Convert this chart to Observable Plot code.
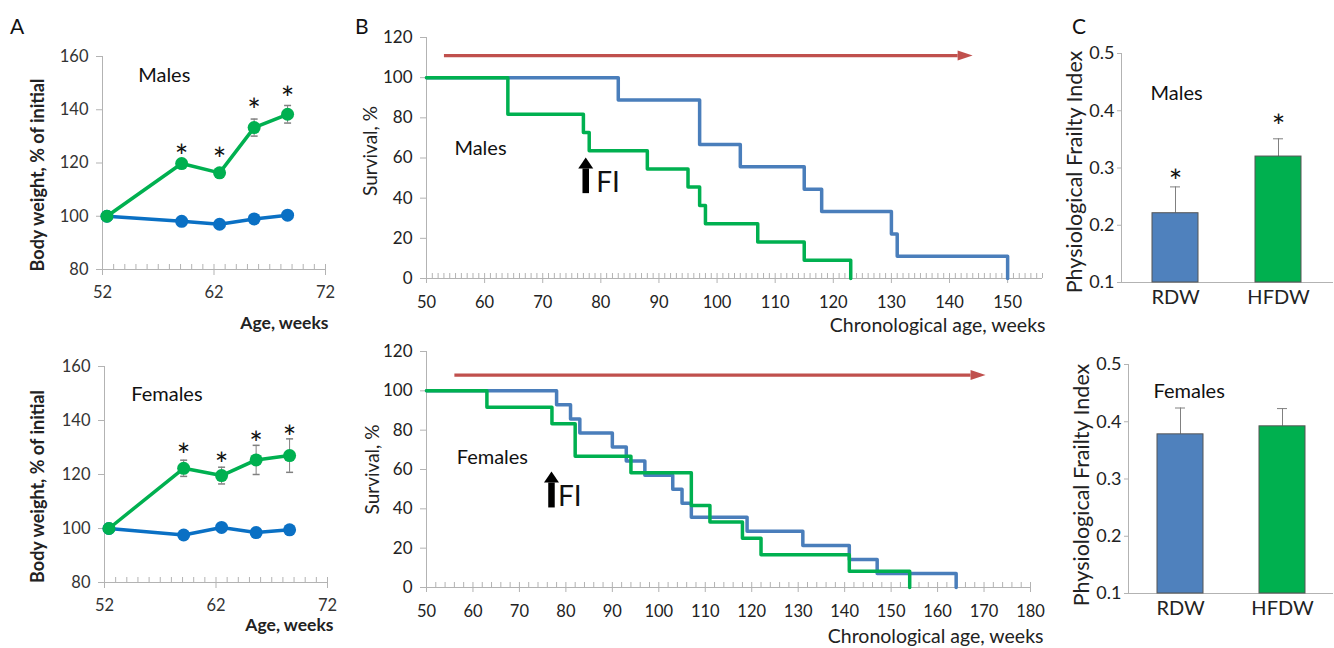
<!DOCTYPE html>
<html><head><meta charset="utf-8">
<script src="https://cdn.jsdelivr.net/npm/d3@7"></script>
<script src="https://cdn.jsdelivr.net/npm/@observablehq/plot@0.6"></script>
<style>
body{margin:0;background:#fff;}
#fig{position:relative;width:1334px;height:648px;overflow:hidden;font-family:Lato,"Open Sans",sans-serif;}
.panel{position:absolute;}
.letter{position:absolute;font-size:21px;color:#111;font-family:Lato,sans-serif;line-height:1;}
</style></head><body><div id="fig"></div>
<script>
// ---------- Panel A: body weight ----------
const weightWeeks = [52.4, 59.1, 62.5, 65.6, 68.6];
const maleHFDW = [100, 119.8, 116.3, 133.3, 138.3];
const maleHFDWErr = [0.6, 1.2, 1.2, 3.2, 3.3];
const maleRDW = [100, 98.1, 97.0, 99.0, 100.4];
const maleRDWErr = [0.5, 1.2, 1.2, 0.8, 0.6];
const maleStar = [null, 125.4, 124.1, 142.8, 147.0];
const femaleHFDW = [100, 122.3, 119.6, 125.4, 127.0];
const femaleHFDWErr = [0.6, 3.0, 3.1, 5.4, 6.2];
const femaleRDW = [100, 97.6, 100.4, 98.5, 99.5];
const femaleRDWErr = [0.5, 1.0, 0.8, 1.0, 0.6];
const femaleStar = [null, 129.9, 126.4, 134.4, 136.5];
const weightTicks = [80, 100, 120, 140, 160];
const ageTicks = [52, 62, 72];

// ---------- Panel B: survival (Kaplan-Meier steps) ----------
const maleRDWTime = [50, 83, 97, 104, 115, 118, 130, 131, 150];
const maleRDWSurv = [100, 88.9, 66.7, 55.6, 44.4, 33.3, 22.2, 11.1, 0];
const maleHFDWTime = [50, 64, 77, 78, 88, 95, 97, 98, 107, 115, 123];
const maleHFDWSurv = [100, 81.8, 72.7, 63.6, 54.5, 45.5, 36.4, 27.3, 18.2, 9.1, 0];
const femaleRDWTime = [50, 78, 81, 83, 90, 93, 97, 103, 105, 107, 119, 131, 141, 147, 164];
const femaleRDWSurv = [100, 92.9, 85.7, 78.6, 71.4, 64.3, 57.1, 50, 42.9, 35.7, 28.6, 21.4, 14.3, 7.1, 0];
const femaleHFDWTime = [50, 63, 77, 82, 94, 107, 111, 118, 122, 141, 154];
const femaleHFDWSurv = [100, 91.7, 83.3, 66.7, 58.3, 41.7, 33.3, 25, 16.7, 8.3, 0];
const survivalTicks = [0, 20, 40, 60, 80, 100, 120];
// treatment arrow (start week, head-base week, level) and FI arrow (week, from, head base) per sex
const treatStart = [53, 56];
const treatHeadBase = [141.4, 167.1];
const treatLevel = [111, 108];
const fiWeek = [77.4, 76.9];
const fiFrom = [42.5, 40.7];
const fiHeadBase = [54.8, 53.4];
const fiTextWeek = [79.2, 78.3];
const fiTextLevel = [47.3, 45.8];
const sexLabelWeek = [54.8, 56.5];
const sexLabelLevel = [64.9, 66.1];

// ---------- Panel C: frailty index ----------
const groups = ["RDW", "HFDW"];
const maleFI = [0.221, 0.320];
const maleFIErr = [0.046, 0.031];
const maleFIStar = [0.290, 0.386];
const femaleFI = [0.378, 0.392];
const femaleFIErr = [0.046, 0.031];
const femaleFIStar = [null, null];
const fiTicks = [0.1, 0.2, 0.3, 0.4, 0.5];

// ---------- styling ----------
const axisGray = "#b3b3b3";
const errGray = "#808080";
const greenA = "#00b050", blueA = "#0a70c4";
const greenB = "#00b050", blueB = "#4a7ebb", redB = "#c0504d";
const barBlue = "#4f81bd", barGreen = "#00b04f";
const FONT = "Lato, 'Open Sans', sans-serif";

const capSym = {draw(ctx) { ctx.moveTo(-3.5, 0); ctx.lineTo(3.5, 0); }};
const headRight = {draw(ctx) { ctx.moveTo(15, 0); ctx.lineTo(0, -5); ctx.lineTo(0, 5); ctx.closePath(); }};
const headUp = {draw(ctx) { ctx.moveTo(0, -11); ctx.lineTo(-7.5, 0); ctx.lineTo(7.5, 0); ctx.closePath(); }};

const fig = document.getElementById("fig");
function place(svg, left, top, w) {
  const d = document.createElement("div");
  d.className = "panel";
  d.style.left = left + "px"; d.style.top = top + "px"; d.style.width = w + "px";
  d.appendChild(svg); fig.appendChild(d);
}
function letter(t, left, top) {
  const d = document.createElement("div");
  d.className = "letter"; d.textContent = t;
  d.style.left = left + "px"; d.style.top = top + "px";
  fig.appendChild(d);
}
const baseStyle = {fontFamily: FONT, fontSize: "16px", color: "#222", background: "transparent", overflow: "visible"};

function weightPanel(o) {
  const data = weightWeeks.map((w, i) => ({week: w, hf: o.hf[i], hfErr: o.hfErr[i], rd: o.rd[i], rdErr: o.rdErr[i], star: o.star[i]}));
  const fh = o.height - o.mt - o.mb;
  const minor = d3.range(52, 72.001, 1);
  return Plot.plot({
    width: 345, height: o.height, marginLeft: o.ml, marginRight: o.mr, marginTop: o.mt, marginBottom: o.mb,
    style: baseStyle,
    x: {domain: [52, 72]}, y: {domain: [80, 160]},
    marks: [
      Plot.ruleX([52], {stroke: axisGray}),
      Plot.ruleY([80], {stroke: axisGray}),
      Plot.tickX(minor, {x: d => d, stroke: axisGray, insetTop: fh - 5}),
      Plot.axisX({ticks: ageTicks, tickSize: 6, tickPadding: 11, stroke: axisGray, fill: "#333", fontSize: 16.5, label: null}),
      Plot.axisY({ticks: weightTicks, tickSize: 6, tickPadding: 8, stroke: axisGray, fill: "#333", fontSize: 16.5, label: null}),
      Plot.ruleX(data, {x: "week", y1: d => d.rd - d.rdErr, y2: d => d.rd + d.rdErr, stroke: errGray}),
      Plot.ruleX(data, {x: "week", y1: d => d.hf - d.hfErr, y2: d => d.hf + d.hfErr, stroke: errGray}),
      Plot.dot(data, {x: "week", y: d => d.hf + d.hfErr, symbol: capSym, stroke: errGray}),
      Plot.dot(data, {x: "week", y: d => d.hf - d.hfErr, symbol: capSym, stroke: errGray}),
      Plot.line(data, {x: "week", y: "rd", stroke: blueA, strokeWidth: 3.5}),
      Plot.dot(data, {x: "week", y: "rd", r: 6.5, fill: blueA}),
      Plot.line(data, {x: "week", y: "hf", stroke: greenA, strokeWidth: 3.5}),
      Plot.dot(data, {x: "week", y: "hf", r: 6.5, fill: greenA}),
      Plot.text(data.filter(d => d.star != null), {x: "week", y: "star", text: () => "*", fontSize: 32, dy: 9, fill: "#111"}),
      Plot.text([o.sex], {x: o.labelX, y: o.labelY, textAnchor: "start", fontSize: 20, fill: "#111"}),
      Plot.text(["Age, weeks"], {frameAnchor: "bottom-right", textAnchor: "end", dx: o.ageDx, dy: o.ageDy, fontSize: 17.5, fontWeight: "bold", fill: "#222"}),
      Plot.text(["Body weight, % of initial"], {frameAnchor: "left", textAnchor: "middle", rotate: -90, dx: o.ylDx, dy: o.ylDy, fontSize: 18, fontWeight: "bold", fill: "#222"})
    ]
  });
}

function survivalPanel(o) {
  const rd = o.rdT.map((t, i) => ({t, s: o.rdS[i]}));
  const hf = o.hfT.map((t, i) => ({t, s: o.hfS[i]}));
  const k = o.k;
  const arrow = [{x1: treatStart[k], x2: treatHeadBase[k], y: treatLevel[k]}];
  const fi = [{x: fiWeek[k], y1: fiFrom[k], y2: fiHeadBase[k]}];
  const fh = o.height - o.mt - o.mb;
  return Plot.plot({
    width: 705, height: o.height, marginLeft: o.ml, marginRight: o.mr, marginTop: o.mt, marginBottom: o.mb,
    style: baseStyle,
    x: {domain: [50, o.xmax]}, y: {domain: [0, 120]},
    marks: [
      Plot.ruleX([50], {stroke: axisGray}),
      Plot.ruleY([0], {stroke: axisGray}),
      Plot.tickX(d3.range(50, o.xmax + 0.001, o.minorStep), {x: d => d, stroke: axisGray, insetTop: fh - 5}),
      Plot.axisX({ticks: d3.range(50, o.tickMax + 1, 10), tickSize: 5, tickPadding: 13, stroke: axisGray, fill: "#222", fontSize: 16.5, label: null}),
      Plot.axisY({ticks: survivalTicks, tickSize: 6, tickPadding: 8, stroke: axisGray, fill: "#222", fontSize: 17, label: null}),
      Plot.line(rd, {x: "t", y: "s", curve: "step-after", stroke: blueB, strokeWidth: 3.5}),
      Plot.line(hf, {x: "t", y: "s", curve: "step-after", stroke: greenB, strokeWidth: 3.5}),
      Plot.link(arrow, {x1: "x1", x2: "x2", y1: "y", y2: "y", stroke: redB, strokeWidth: 3.2}),
      Plot.dot(arrow, {x: "x2", y: "y", symbol: headRight, fill: redB, r: 5}),
      Plot.link(fi, {x1: "x", x2: "x", y1: "y1", y2: "y2", stroke: "#000", strokeWidth: 6.5}),
      Plot.dot(fi, {x: "x", y: "y2", symbol: headUp, fill: "#000", r: 5}),
      Plot.text(["FI"], {x: fiTextWeek[k], y: fiTextLevel[k], textAnchor: "start", fontSize: 28, fill: "#111"}),
      Plot.text([o.sex], {x: sexLabelWeek[k], y: sexLabelLevel[k], textAnchor: "start", fontSize: 20, fill: "#111"}),
      Plot.text(["Chronological age, weeks"], {frameAnchor: "bottom-right", textAnchor: "end", dx: o.xlDx, dy: o.xlDy, fontSize: 19.5, fill: "#222"}),
      Plot.text(["Survival, %"], {frameAnchor: "left", textAnchor: "middle", rotate: -90, dx: o.ylDx, dy: o.ylDy, fontSize: 19, fill: "#222"})
    ]
  });
}

function frailtyPanel(o) {
  const data = groups.map((g, i) => ({g, v: o.v[i], e: o.e[i], star: o.star[i], c: i === 0 ? barBlue : barGreen}));
  return Plot.plot({
    width: 284, height: o.height, marginLeft: o.ml, marginRight: o.mr, marginTop: o.mt, marginBottom: o.mb,
    style: baseStyle,
    x: {domain: groups, paddingInner: 0.55, paddingOuter: o.po, align: 0.5},
    y: {domain: [0.1, 0.5]},
    color: {type: "identity"},
    marks: [
      Plot.frame({anchor: "left", stroke: axisGray}),
      Plot.ruleY([0.1], {stroke: axisGray}),
      Plot.axisX({tickSize: 0, tickPadding: 7, fill: "#222", fontSize: 20, label: null}),
      Plot.axisY({ticks: fiTicks, tickFormat: ".1f", tickSize: 4, tickPadding: 3, stroke: axisGray, fill: "#222", fontSize: 18, label: null}),
      Plot.ruleX(data, {x: "g", y1: "v", y2: d => d.v + d.e, stroke: errGray}),
      Plot.tickY(data, {x: "g", y: d => d.v + d.e, stroke: errGray, insetLeft: 18, insetRight: 18}),
      Plot.barY(data, {x: "g", y1: 0.1, y2: "v", fill: "c", stroke: "#555", strokeWidth: 1}),
      Plot.text(data.filter(d => d.star != null), {x: "g", y: "star", text: () => "*", fontSize: 32, dy: 9, fill: "#111"}),
      Plot.text([o.sex], {frameAnchor: "top-left", textAnchor: "start", dx: o.sDx, dy: o.sDy, fontSize: 20, fill: "#111"}),
      Plot.text(["Physiological Frailty Index"], {frameAnchor: "left", textAnchor: "middle", rotate: -90, dx: o.ylDx, dy: o.ylDy, fontSize: 21.5, fill: "#222"})
    ]
  });
}

place(weightPanel({sex: "Males", hf: maleHFDW, hfErr: maleHFDWErr, rd: maleRDW, rdErr: maleRDWErr, star: maleStar,
  height: 330, ml: 102, mr: 20, mt: 56, mb: 61, labelX: 55.2, labelY: 152.9, ageDx: 3, ageDy: 59, ylDx: -64, ylDy: 12}), 0, 0, 345);
place(weightPanel({sex: "Females", hf: femaleHFDW, hfErr: femaleHFDWErr, rd: femaleRDW, rdErr: femaleRDWErr, star: femaleStar,
  height: 328, ml: 104, mr: 18, mt: 46, mb: 66, labelX: 54.4, labelY: 149.6, ageDx: 6, ageDy: 48, ylDx: -66, ylDy: 12}), 0, 320, 345);
place(survivalPanel({sex: "Males", k: 0, rdT: maleRDWTime, rdS: maleRDWSurv, hfT: maleHFDWTime, hfS: maleHFDWSurv,
  height: 340, ml: 81, mr: 8, mt: 37, mb: 62, xmax: 156, tickMax: 150, minorStep: 1, xlDx: 3, xlDy: 53, ylDx: -56, ylDy: -7}), 345, 0, 705);
place(survivalPanel({sex: "Females", k: 1, rdT: femaleRDWTime, rdS: femaleRDWSurv, hfT: femaleHFDWTime, hfS: femaleHFDWSurv,
  height: 318, ml: 81, mr: 20, mt: 21, mb: 61, xmax: 180, tickMax: 180, minorStep: 2, xlDx: 13, xlDy: 55, ylDx: -54, ylDy: 0}), 345, 330, 705);
place(frailtyPanel({sex: "Males", v: maleFI, e: maleFIErr, star: maleFIStar,
  height: 330, ml: 71, mr: 1, mt: 53, mb: 48, po: 0.3, sDx: 29, sDy: 32, ylDx: -46, ylDy: 4}), 1050, 0, 284);
place(frailtyPanel({sex: "Females", v: femaleFI, e: femaleFIErr, star: femaleFIStar,
  height: 328, ml: 78, mr: 1, mt: 44, mb: 55, po: 0.276, sDx: 25, sDy: 19, ylDx: -46, ylDy: 6}), 1050, 320, 284);

letter("A", 10, 15);
letter("B", 355, 15);
letter("C", 1072, 15);
</script></body></html>
